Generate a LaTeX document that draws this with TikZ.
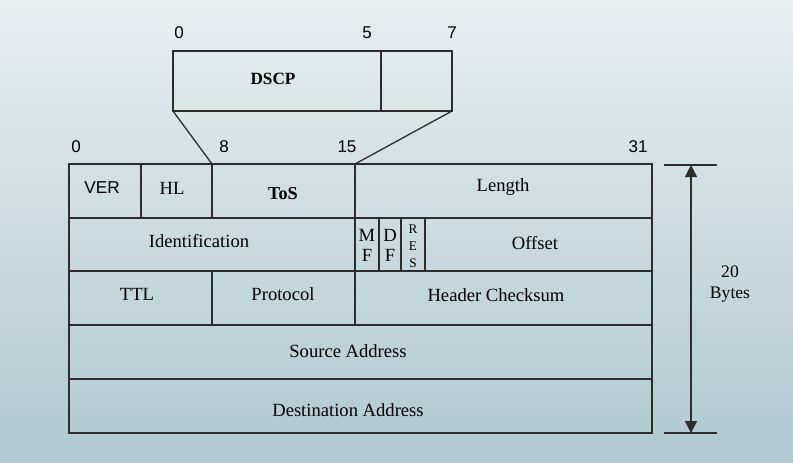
\documentclass[tikz,border=0pt]{standalone}
\usepackage{fontspec}
\setmainfont{Liberation Serif}
\newfontfamily\numfont{Liberation Sans}
\usetikzlibrary{arrows.meta}
\tikzset{>={Triangle[length=6pt,width=6pt]}}
\definecolor{bgtop}{RGB}{232,238,240}
\definecolor{bgbot}{RGB}{174,201,207}
\definecolor{rulegray}{RGB}{45,45,45}
\newcommand*{\bitno}[1]{{\numfont\fontsize{8.5}{10}\selectfont #1}}
\newcommand*{\fld}[1]{{\fontsize{9.3}{11}\selectfont #1}}

\begin{document}
\begin{tikzpicture}[x=.5pt,y=-.5pt,line width=.65pt,
  every node/.style={inner sep=0pt}]
\shade[top color=bgtop,bottom color=bgbot] (0,0) rectangle (793,462);
\useasboundingbox (0,0) rectangle (793,462);
% DSCP byte
\coordinate (D0) at (173,51);
\coordinate (D1) at (452,111);
\draw[rulegray] (D0) rectangle (D1);
\draw[rulegray] (381,51) -- (381,111);
\node (dscp) at (273,79) {\fontsize{8.6}{10}\selectfont\bfseries DSCP};
\node (b0) at (179,33) {\bitno{0}};
\node (b5) at (367,33) {\bitno{5}};
\node (b7) at (452,33) {\bitno{7}};
% header frame
\coordinate (H0) at (69,164);
\coordinate (H1) at (652,433);
\draw[rulegray] (H0) rectangle (H1);
\foreach \y in {218,271,325,379}
  \draw[rulegray] (69,\y) -- (652,\y);
\draw[rulegray] (141,164) -- (141,218);
\draw[rulegray] (212,164) -- (212,218);
\draw[rulegray] (212,271) -- (212,325);
\draw[rulegray] (355,164) -- (355,325);
\foreach \x in {379,401,425}
  \draw[rulegray] (\x,218) -- (\x,271);
% fan-out from ToS
\coordinate (T0) at (212,164);
\coordinate (T1) at (355,164);
\draw[rulegray] (D0 |- D1) -- (T0);
\draw[rulegray] (D1) -- (T1);
% bit numbers
\node (h0) at (76,147) {\bitno{0}};
\node (h8) at (224,147) {\bitno{8}};
\node (h15) at (347,147) {\bitno{15}};
\node (h31) at (638,147) {\bitno{31}};
% fields
\node (ver) at (102,188) {\numfont\fontsize{8.6}{10}\selectfont VER};
\node (hl) at (172,188) {\fld{HL}};
\node (tos) at (283,194) {\fontsize{9.1}{11}\selectfont\bfseries ToS};
\node (len) at (503,187) {\fld{Length}};
\node (ident) at (199,241) {\fld{Identification}};
\node[align=center] (mf) at (367,245)
  {\fld{M}\\[-2pt]\fld{F}};
\node[align=center] (df) at (390,245)
  {\fld{D}\\[-2pt]\fld{F}};
\node[align=center,font=\fontsize{6.6}{8.5}\selectfont] (res) at (413,246)
  {R\\E\\S};
\node (off) at (535,243) {\fld{Offset}};
\node (ttl) at (137,294) {\fld{TTL}};
\node (proto) at (283,294) {\fld{Protocol}};
\node (chk) at (496,295) {\fld{Header Checksum}};
\node (src) at (348,351) {\fld{Source Address}};
\node (dst) at (348,410) {\fld{Destination Address}};
% 20 bytes
\coordinate (A0) at (691,165);
\coordinate (A1) at (691,433);
\draw[rulegray] (664,165) -- (717,165);
\draw[rulegray] (664,433) -- (717,433);
\draw[<->,rulegray] (A0) -- (A1);
\node[align=center,font=\fontsize{8.8}{10.5}\selectfont] (bytes) at (730,284)
  {20\\Bytes};
\end{tikzpicture}
\end{document}
